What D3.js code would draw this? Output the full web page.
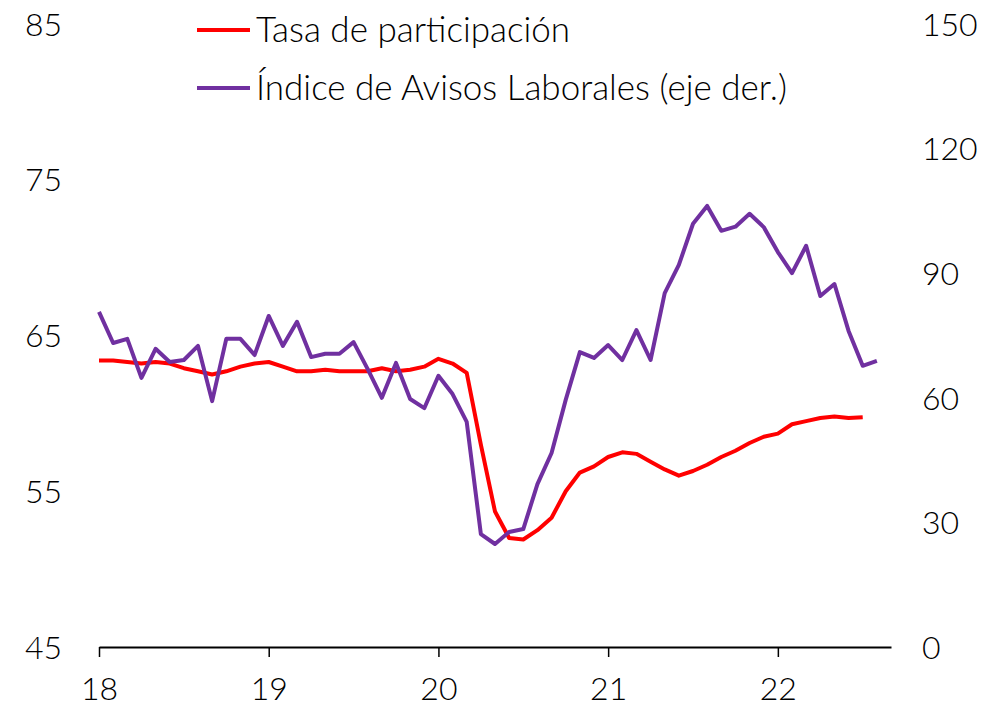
<!DOCTYPE html>
<html>
<head>
<meta charset="utf-8">
<script src="https://cdn.jsdelivr.net/npm/d3@7"></script>
<style>
  body { margin: 0; background: #fff; }
  svg text { font-family: Lato, "Open Sans", sans-serif; font-weight: 300; fill: #000; }
</style>
</head>
<body>
<svg></svg>
<script>
// monthly data, Jan 2018 onwards
const yearLabels = ["18", "19", "20", "21", "22"];

const participacion = [
  63.4, 63.4, 63.3, 63.2, 63.3, 63.2, 62.9, 62.7, 62.5, 62.7, 63.0, 63.2,
  63.3, 63.0, 62.7, 62.7, 62.8, 62.7, 62.7, 62.7, 62.9, 62.7, 62.8, 63.0,
  63.5, 63.2, 62.6, 58.0, 53.7, 52.0, 51.9, 52.5, 53.3, 55.0, 56.2, 56.6,
  57.2, 57.5, 57.4, 56.9, 56.4, 56.0, 56.3, 56.7, 57.2, 57.6, 58.1, 58.5,
  58.7, 59.3, 59.5, 59.7, 59.8, 59.7, 59.75
];

const avisos = [
  80.7, 73.2, 74.2, 64.8, 71.8, 68.6, 69.1, 72.5, 59.2, 74.2, 74.2, 70.3,
  79.7, 72.5, 78.3, 69.8, 70.6, 70.6, 73.4, 66.9, 60.0, 68.4, 59.7, 57.5,
  65.3, 60.9, 54.2, 27.2, 24.8, 27.7, 28.4, 39.2, 46.7, 59.5, 71.0, 69.6,
  72.7, 69.1, 76.3, 69.1, 85.2, 92.0, 101.9, 106.2, 100.2, 101.2, 104.3, 101.1,
  95.1, 90.0, 96.6, 84.5, 87.4, 76.1, 67.7, 68.9
];

const seriesNames = ["Tasa de participación", "Índice de Avisos Laborales (eje der.)"];
const leftTicks = [45, 55, 65, 75, 85];
const rightTicks = [0, 30, 60, 90, 120, 150];

const w = 1000;
const h = 709;
const margin = { top: 24, bottom: 62, left: 99, right: 109 };

const svg = d3.select("svg").attr("width", w).attr("height", h);

const x = d3.scaleLinear().domain([0, 56]).range([margin.left, w - margin.right]);
const yL = d3.scaleLinear().domain([45, 85]).range([h - margin.bottom, margin.top]);
const yR = d3.scaleLinear().domain([0, 150]).range([h - margin.bottom, margin.top]);

// x axis
const xAxis = svg.append("g")
  .attr("transform", `translate(0, ${h - margin.bottom})`)
  .call(d3.axisBottom(x)
    .tickValues([0, 12, 24, 36, 48])
    .tickFormat((d, i) => yearLabels[i])
    .tickSize(10)
    .tickSizeOuter(0)
    .tickPadding(20));
xAxis.select(".domain").attr("stroke", "#000").attr("stroke-width", 2);
xAxis.selectAll(".tick line").attr("stroke", "#000").attr("stroke-width", 1.5);
xAxis.selectAll("text").attr("font-size", 32).attr("font-family", null);

// left axis
const leftAxis = svg.append("g")
  .attr("transform", `translate(${margin.left - 37}, 0)`)
  .call(d3.axisLeft(yL).tickValues(leftTicks).tickSize(0).tickPadding(0));
leftAxis.select(".domain").remove();
leftAxis.selectAll("text").attr("font-size", 32).attr("font-family", null).attr("dy", "0.35em");

// right axis
const rightAxis = svg.append("g")
  .attr("transform", `translate(${w - margin.right + 31}, 0)`)
  .call(d3.axisRight(yR).tickValues(rightTicks).tickSize(0).tickPadding(0));
rightAxis.select(".domain").remove();
rightAxis.selectAll("text").attr("font-size", 32).attr("font-family", null).attr("dy", "0.35em");

// lines
const lineL = d3.line().x((d, i) => x(i)).y(d => yL(d));
const lineR = d3.line().x((d, i) => x(i)).y(d => yR(d));

svg.append("path")
  .datum(participacion)
  .attr("fill", "none")
  .attr("stroke", "#ff0000")
  .attr("stroke-width", 4)
  .attr("stroke-linejoin", "round")
  .attr("d", lineL);

svg.append("path")
  .datum(avisos)
  .attr("fill", "none")
  .attr("stroke", "#7030a0")
  .attr("stroke-width", 4)
  .attr("stroke-linejoin", "round")
  .attr("d", lineR);

// legend
const legendColors = ["#ff0000", "#7030a0"];
const legend = svg.append("g").attr("transform", "translate(197, 30)");
seriesNames.forEach((name, i) => {
  const g = legend.append("g").attr("transform", `translate(0, ${i * 58})`);
  g.append("line")
    .attr("x1", 0).attr("x2", 53)
    .attr("stroke", legendColors[i])
    .attr("stroke-width", 4);
  g.append("text")
    .attr("x", 59)
    .attr("dy", "0.35em")
    .attr("font-size", 35)
    .text(name);
});
</script>
</body>
</html>
